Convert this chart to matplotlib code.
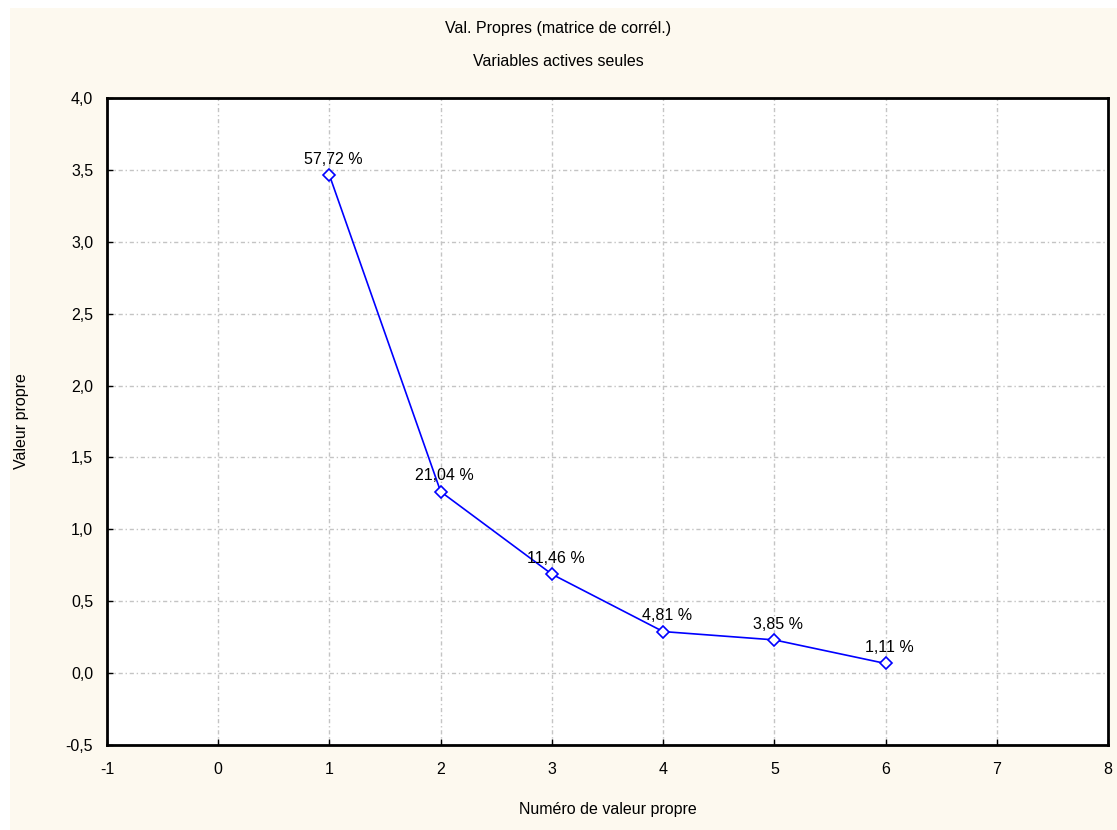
import numpy as np
import matplotlib.pyplot as plt
from matplotlib.patches import Rectangle
from matplotlib.ticker import FuncFormatter

# eigenvalues (correlation matrix, 6 active variables)
numeros = [1, 2, 3, 4, 5, 6]
valeurs = [3.463, 1.262, 0.688, 0.289, 0.231, 0.067]
pourcentages = ["57,72 %", "21,04 %", "11,46 %", "4,81 %", "3,85 %", "1,11 %"]

plt.rcParams['font.family'] = ['Liberation Sans', 'DejaVu Sans']
plt.rcParams['axes.unicode_minus'] = False

fig = plt.figure(figsize=(11.17, 8.30), dpi=100)
fig.patch.set_facecolor('white')
# cream background panel
fig.patches.append(Rectangle((10 / 1117, -0.01), 1.01, 1.01 - 8 / 830,
                             transform=fig.transFigure, facecolor='#fdf9ef',
                             edgecolor='none', zorder=-10))

ax = fig.add_axes([107 / 1117, 1 - 745 / 830, (1108 - 107) / 1117, (745 - 98) / 830])
ax.set_facecolor('white')

ax.plot(numeros, valeurs, color='#0000ff', lw=1.2, marker='D', ms=6,
        mfc='white', mec='#0000ff', mew=1.2, zorder=3)
for x, y, t in zip(numeros, valeurs, pourcentages):
    ax.annotate(t, (x, y), xytext=(3, 6), textcoords='offset points',
                ha='center', va='bottom', fontsize=11.5)

ax.set_xlim(-1, 8)
ax.set_ylim(-0.5, 4.0)
ax.set_xticks(np.arange(-1, 9, 1))
ax.set_yticks(np.arange(-0.5, 4.01, 0.5))
ax.yaxis.set_major_formatter(FuncFormatter(lambda v, p: f"{v:.1f}".replace('.', ',')))
ax.grid(True, color='#c4c4c4', linestyle=(0, (3, 2, 1, 2)), lw=1.0)
ax.tick_params(labelsize=11.5, length=4, width=1, direction='in')
ax.tick_params(axis='x', pad=12)
ax.tick_params(axis='y', pad=10)
for s in ax.spines.values():
    s.set_linewidth(2)

ax.set_xlabel("Numéro de valeur propre", fontsize=11.5, labelpad=18)
ax.set_ylabel("Valeur propre", fontsize=11.5, labelpad=26)
fig.text(0.5, 1 - 28 / 830, "Val. Propres (matrice de corrél.)", ha='center', va='center', fontsize=11.5)
fig.text(0.5, 1 - 62 / 830, "Variables actives seules", ha='center', va='center', fontsize=11.5)

fig.savefig('out.png', dpi=100)
